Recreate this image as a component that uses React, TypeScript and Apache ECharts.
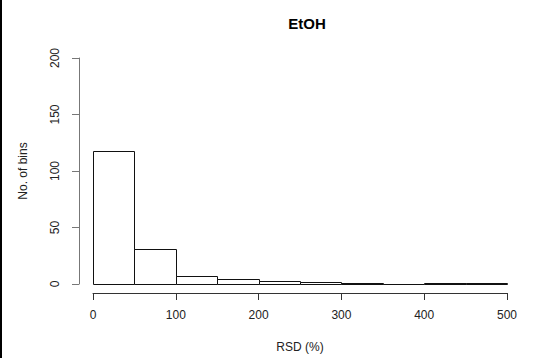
import React, { useEffect, useRef } from "react";
import * as echarts from "echarts";

// Histogram of RSD values, bins of width 50
const binStarts = [0, 50, 100, 150, 200, 250, 300, 350, 400, 450];
const binWidth = 50;
const binCounts = [118, 31, 7, 4, 3, 2, 1, 0, 1, 1];
const xTicks = [0, 100, 200, 300, 400, 500];
const yTicks = [0, 50, 100, 150, 200];

const FONT = "'Liberation Sans', Arial, Helvetica, sans-serif";

export default function App() {
  const ref = useRef<HTMLDivElement>(null);

  useEffect(() => {
    if (!ref.current) return;
    const chart = echarts.init(ref.current, null, { renderer: "svg" });
    const data = binStarts.map((s, i) => [s, s + binWidth, binCounts[i]]);

    chart.setOption({
      animation: false,
      backgroundColor: "#ffffff",
      title: {
        text: "EtOH",
        left: 302,
        textAlign: "center",
        top: 11,
        textStyle: { fontFamily: FONT, fontSize: 15, fontWeight: "bold", color: "#000" },
      },
      grid: { left: 93, right: 29, top: 58, bottom: 74, containLabel: false },
      xAxis: {
        type: "value",
        min: xTicks[0],
        max: xTicks[xTicks.length - 1],
        interval: 100,
        offset: 9,
        name: "RSD (%)",
        nameLocation: "middle",
        nameGap: 48,
        nameTextStyle: { fontFamily: FONT, fontSize: 12, color: "#222" },
        axisLine: { show: true, onZero: false, lineStyle: { color: "#333", width: 1 } },
        axisTick: { show: true, length: 7, lineStyle: { color: "#333" } },
        axisLabel: { fontFamily: FONT, fontSize: 12, color: "#222", margin: 16 },
        splitLine: { show: false },
      },
      yAxis: {
        type: "value",
        min: yTicks[0],
        max: yTicks[yTicks.length - 1],
        interval: 50,
        offset: 14,
        name: "No. of bins",
        nameLocation: "middle",
        nameGap: 50,
        nameRotate: 90,
        nameTextStyle: { fontFamily: FONT, fontSize: 12, color: "#222" },
        axisLine: { show: true, onZero: false, lineStyle: { color: "#777", width: 1 } },
        axisTick: { show: true, length: 7, lineStyle: { color: "#777" } },
        axisLabel: {
          fontFamily: FONT,
          fontSize: 12,
          color: "#222",
          rotate: 90,
          margin: 18,
        },
        splitLine: { show: false },
      },
      graphic: [
        {
          type: "rect",
          left: 0,
          top: 0,
          shape: { width: 2, height: 358 },
          style: { fill: "#000" },
        },
      ],
      series: [
        {
          type: "custom",
          data,
          encode: { x: [0, 1], y: 2 },
          renderItem: (params: any, api: any) => {
            const lo = api.value(0);
            const hi = api.value(1);
            const c = api.value(2);
            const p0 = api.coord([lo, c]);
            const p1 = api.coord([hi, 0]);
            return {
              type: "rect",
              shape: {
                x: Math.round(p0[0]) + 0.5,
                y: Math.round(p0[1]) + 0.5,
                width: Math.round(p1[0]) - Math.round(p0[0]),
                height: Math.round(p1[1]) - Math.round(p0[1]),
              },
              style: { fill: "#fff", stroke: "#111", lineWidth: 1 },
            };
          },
        },
      ],
    });

    return () => chart.dispose();
  }, []);

  return (
    <div
      ref={ref}
      style={{ position: "fixed", left: 0, top: 0, width: 536, height: 358 }}
    />
  );
}
